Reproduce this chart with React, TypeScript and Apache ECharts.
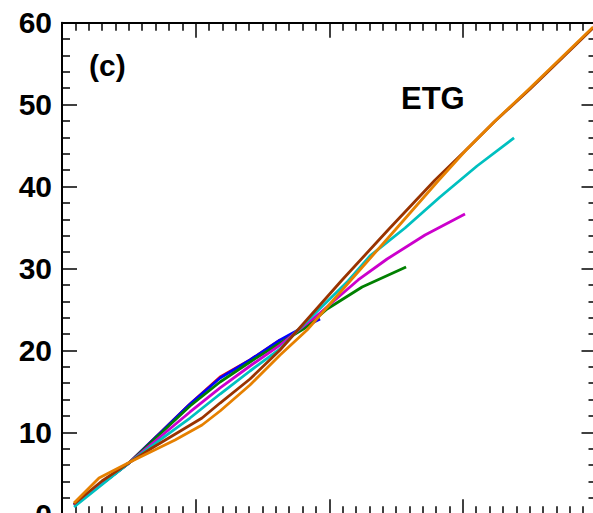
import React, { useEffect, useRef } from "react";
import * as echarts from "echarts";

// y tick labels
const yTicks = [0, 10, 20, 30, 40, 50, 60];

// series (x, y)
const redX = [0.09, 0.509, 0.734, 0.958, 1.183, 1.407, 1.632];
const redY = [1.14, 6.37, 9.92, 13.46, 16.76, 18.83, 21.27];

const blueX = [0.09, 0.509, 0.734, 0.958, 1.183, 1.407, 1.632, 1.781, 1.931];
const blueY = [1.14, 6.37, 9.92, 13.46, 16.64, 18.83, 21.27, 22.62, 23.84];

const greenX = [0.09, 0.509, 0.734, 0.958, 1.183, 1.407, 1.632, 1.819, 1.984, 2.246, 2.575];
const greenY = [1.14, 6.37, 9.8, 13.22, 16.15, 18.59, 20.91, 22.74, 25.06, 27.74, 30.18];

const magentaX = [0.09, 0.509, 0.734, 0.958, 1.183, 1.407, 1.632, 1.931, 2.216, 2.433, 2.717, 3.016];
const magentaY = [1.14, 6.37, 9.43, 12.49, 15.42, 18.1, 20.66, 24.57, 28.6, 31.16, 34.09, 36.65];

const cyanX = [0.09, 0.509, 0.734, 0.958, 1.183, 1.407, 1.632, 1.759, 2.141, 2.305, 2.567, 2.829, 3.106, 3.383];
const cyanY = [0.89, 6.37, 9.07, 11.75, 14.68, 17.49, 20.18, 22.37, 28.48, 31.53, 34.94, 38.73, 42.51, 45.93];

const brownX = [0.09, 0.299, 0.509, 0.674, 1.048, 1.183, 1.407, 1.632, 2.096, 2.44, 2.792, 3.016, 3.234, 3.503, 3.743, 3.975];
const brownY = [1.26, 4.06, 6.37, 8.09, 11.75, 13.58, 16.51, 20.05, 28.6, 34.7, 40.8, 44.34, 47.88, 51.91, 55.7, 59.36];

const orangeX = [0.09, 0.277, 0.509, 0.846, 1.048, 1.183, 1.407, 1.632, 1.834, 2.156, 2.493, 2.814, 3.024, 3.241, 3.503, 3.743, 3.975];
const orangeY = [1.38, 4.43, 6.37, 9.07, 10.9, 12.61, 15.78, 19.44, 22.49, 28.48, 34.7, 40.68, 44.46, 48.0, 52.03, 55.82, 59.48];

const seriesDefs = [
  { name: "red", color: "#ff0000", xs: redX, ys: redY },
  { name: "blue", color: "#0000ff", xs: blueX, ys: blueY },
  { name: "green", color: "#008000", xs: greenX, ys: greenY },
  { name: "magenta", color: "#cc00cc", xs: magentaX, ys: magentaY },
  { name: "cyan", color: "#00c0c0", xs: cyanX, ys: cyanY },
  { name: "brown", color: "#993300", xs: brownX, ys: brownY },
  { name: "orange", color: "#e68000", xs: orangeX, ys: orangeY },
];

const FONT = '"Liberation Sans", Arial, Helvetica, sans-serif';

export default function App() {
  const ref = useRef<HTMLDivElement>(null);
  useEffect(() => {
    if (!ref.current) return;
    const chart = echarts.init(ref.current, undefined, { renderer: "svg" });
    const axisCommon = {
      axisLine: { show: true, onZero: false, lineStyle: { color: "#000", width: 2 } },
      axisTick: { show: true, inside: true, length: 15, lineStyle: { color: "#000", width: 1.5 } },
      minorTick: { show: true, length: 8, lineStyle: { color: "#000", width: 1.5 } },
      splitLine: { show: false },
      minorSplitLine: { show: false },
    };
    const xCommon = {
      ...axisCommon,
      type: "value",
      min: 0,
      max: 4,
      interval: 1,
      minorTick: { ...axisCommon.minorTick, splitNumber: 10 },
      axisLabel: { show: false },
    };
    const yCommon = {
      ...axisCommon,
      type: "value",
      min: yTicks[0],
      max: yTicks[yTicks.length - 1],
      interval: 10,
      minorTick: { ...axisCommon.minorTick, splitNumber: 5 },
    };
    chart.setOption({
      animation: false,
      backgroundColor: "#fff",
      grid: {
        left: 62,
        top: 22.7,
        right: -3.5,
        bottom: -1.3,
        containLabel: false,
        outerBoundsMode: "none",
      },
      xAxis: [
        { ...xCommon, position: "bottom" },
        { ...xCommon, position: "top" },
      ],
      yAxis: [
        {
          ...yCommon,
          position: "left",
          axisLabel: {
            show: true,
            margin: 10,
            color: "#000",
            fontSize: 30,
            fontWeight: "bold",
            fontFamily: FONT,
          },
        },
        { ...yCommon, position: "right", axisLabel: { show: false } },
      ],
      graphic: [
        {
          type: "text",
          x: 89,
          y: 65,
          style: {
            text: "(c)",
            fill: "#000",
            font: `bold 30px ${FONT}`,
            align: "left",
            verticalAlign: "middle",
          },
        },
        {
          type: "text",
          x: 401,
          y: 98.5,
          style: {
            text: "ETG",
            fill: "#000",
            font: `bold 31px ${FONT}`,
            align: "left",
            verticalAlign: "middle",
          },
        },
      ],
      series: seriesDefs.map((s, i) => ({
        name: s.name,
        type: "line",
        xAxisIndex: 0,
        yAxisIndex: 0,
        data: s.xs.map((x, j) => [x, s.ys[j]]),
        showSymbol: false,
        symbol: "none",
        z: 2 + i,
        lineStyle: { color: s.color, width: 2.8 },
        itemStyle: { color: s.color },
      })),
    });
    return () => chart.dispose();
  }, []);
  return (
    <div
      ref={ref}
      style={{ position: "fixed", left: 0, top: 0, width: 593, height: 513 }}
    />
  );
}
